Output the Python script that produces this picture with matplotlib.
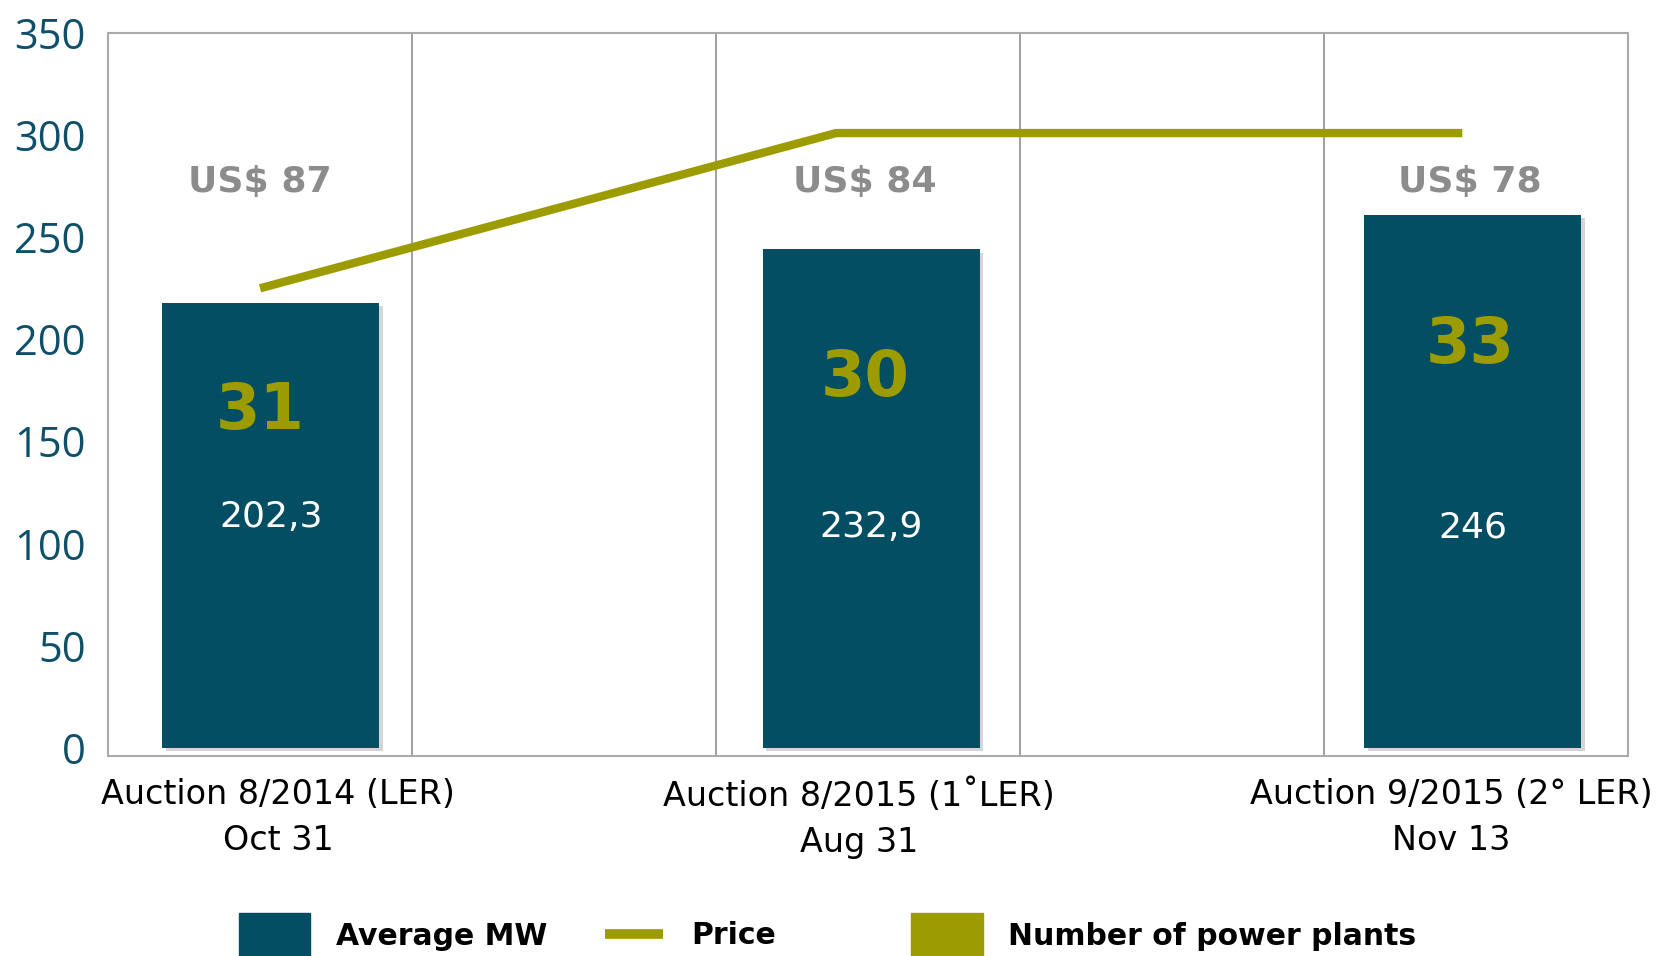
import matplotlib.pyplot as plt
import matplotlib.patheffects as pe
from matplotlib.patches import Patch
from matplotlib.lines import Line2D

# data
auctions = ['Auction 8/2014 (LER)\nOct 31',
            'Auction 8/2015 (1\u02daLER)\nAug 31',
            'Auction 9/2015 (2\u00b0 LER)\nNov 13']
bar_heights = [218, 244, 261]
mw_labels = ['202,3', '232,9', '246']
plant_counts = ['31', '30', '33']
price_labels = ['US$ 87', 'US$ 84', 'US$ 78']
price_line = [225, 301, 301]
y_ticks = [0, 50, 100, 150, 200, 250, 300, 350]

# layout (x in grid cells, 5 cells across)
bar_x = [0.535, 2.51, 4.49]
line_x = [0.50, 2.395, 4.455]
tick_x = [0.56, 2.47, 4.42]
text_x = [0.50, 2.49, 4.48]
count_y = [165, 181, 197]
mw_y = [113, 108, 108]
usd_y = 277

navy = '#034E63'
olive = '#9C9B00'
teal = '#0E4F6A'
grey = '#8C8C8C'

fig = plt.figure(figsize=(16.57, 9.56), dpi=100)
ax = fig.add_axes([0.0652, 0.2092, 0.9173, 0.7563])

bars = ax.bar(bar_x, bar_heights, width=0.714, bottom=0, color=navy, zorder=3)
for b in bars:
    b.set_path_effects([pe.SimplePatchShadow(offset=(2.5, -2.5), alpha=0.22, shadow_rgbFace='#444444'),
                        pe.Normal()])
ax.plot(line_x, price_line, color=olive, lw=6, solid_capstyle='butt', zorder=4)

for i in range(3):
    ax.text(text_x[i], count_y[i], plant_counts[i], color=olive, fontsize=46,
            fontweight='bold', ha='center', va='center', zorder=5)
    ax.text(bar_x[i], mw_y[i], mw_labels[i], color='white', fontsize=26,
            ha='center', va='center', zorder=5)
    ax.text(text_x[i], usd_y, price_labels[i], color=grey, fontsize=26,
            fontweight='bold', ha='center', va='center', zorder=5)

ax.set_xlim(0, 5)
ax.set_ylim(-4, 350)
ax.set_yticks(y_ticks)
ax.set_yticklabels([str(v) for v in y_ticks], color=teal, fontsize=30,
                   family='Open Sans')
ax.set_xticks(tick_x)
ax.set_xticklabels(auctions, fontsize=24, linespacing=1.5)
ax.set_xticks([1, 2, 3, 4], minor=True)
ax.tick_params(axis='both', which='both', length=0)
ax.tick_params(axis='y', pad=16)
ax.tick_params(axis='x', pad=16)
ax.grid(True, axis='x', which='minor', color='#999999', lw=1.3, zorder=1)
for s in ax.spines.values():
    s.set_color('#aaaaaa')
    s.set_linewidth(1.5)

# legend entries, placed one by one
legend_font = {'size': 21.5, 'weight': 'bold'}
fig.legend(handles=[Patch(color=navy, label='Average MW')], loc='center left',
           bbox_to_anchor=(0.135, 0.021), frameon=False, prop=legend_font,
           handlelength=2.4, handleheight=2.0, handletextpad=0.85, borderpad=0)
fig.legend(handles=[Line2D([], [], color=olive, lw=7, solid_capstyle='butt', label='Price')],
           loc='center left', bbox_to_anchor=(0.356, 0.021), frameon=False, prop=legend_font,
           handlelength=1.95, handletextpad=0.95, borderpad=0)
fig.legend(handles=[Patch(color=olive, label='Number of power plants')], loc='center left',
           bbox_to_anchor=(0.541, 0.021), frameon=False, prop=legend_font,
           handlelength=2.4, handleheight=2.0, handletextpad=0.85, borderpad=0)

fig.savefig('out.png', dpi=100)
